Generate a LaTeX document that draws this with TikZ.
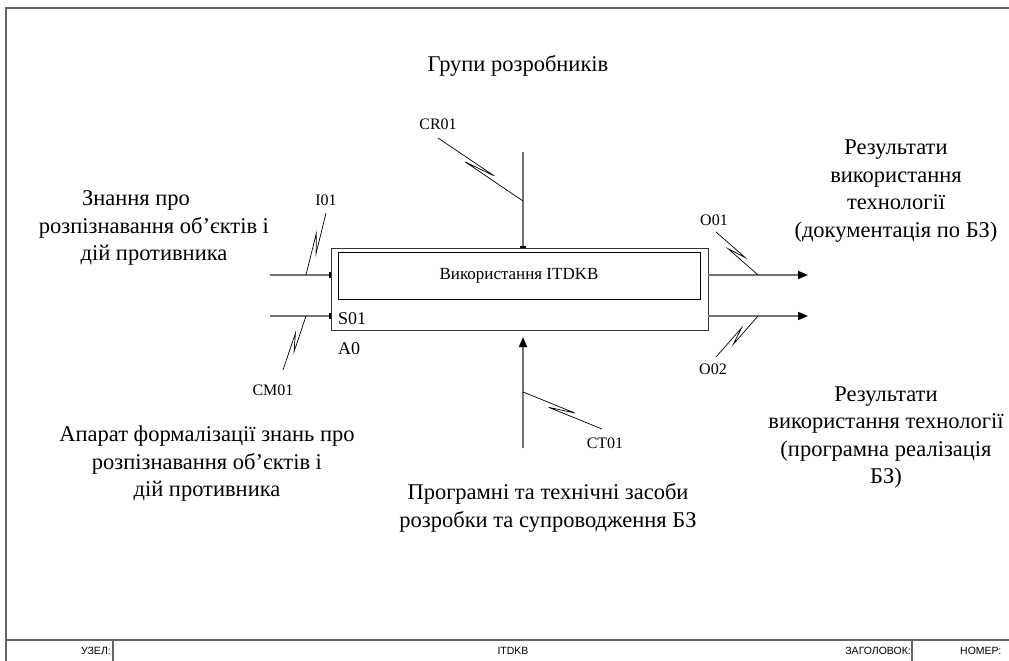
\documentclass[tikz,border=0pt]{standalone}
\usepackage{fontspec}
\setmainfont{Liberation Serif}
\newfontfamily\sansf{Liberation Sans}
\usetikzlibrary{arrows.meta,calc}
\tikzset{
  frameline/.style={draw=black!60, line width=1.6pt},
  flow/.style={draw=black!55, line width=1.6pt},
  leader/.style={draw=black, line width=0.7pt},
  bigtext/.style={font=\fontsize{22.5}{27.5}\selectfont, align=center, inner sep=0pt},
  lbl/.style={font=\fontsize{16}{18}\selectfont, inner sep=0pt},
  foot/.style={font=\sansf\fontsize{10.5}{12}\selectfont, inner sep=0pt},
  outtip/.style={-{Triangle[length=10pt,width=8pt,color=black,fill=black]}},
  bartip/.style={-{Rectangle[length=2pt,width=6pt,color=black,fill=black]}},
}
\newcommand{\squig}[2]{%
  \draw[leader] (#1) -- ($(#1)!0.64!(#2)!3pt!90:(#2)$) -- ($(#1)!0.34!(#2)!3pt!-90:(#2)$) -- (#2);}
\begin{document}
\begin{tikzpicture}[x=1pt,y=-1pt]
\useasboundingbox (0,0) rectangle (1009,661);
\begin{scope}
\clip (0,0) rectangle (1009,661);
% frame
\coordinate (ftl) at (6,8);
\coordinate (ftr) at (1012,8);
\coordinate (fbl) at (6,664);
\coordinate (fl) at (6,640);
\coordinate (fr) at (1012,640);
\coordinate (d1t) at (113,640);
\coordinate (d1b) at (113,664);
\coordinate (d2t) at (912,640);
\coordinate (d2b) at (912,664);
\draw[frameline] (ftr) -- (ftl) -- (fbl);
\draw[frameline, line width=1.2pt] (fl) -- (fr);
\draw[frameline, line width=1.2pt] (d1t) -- (d1b);
\draw[frameline, line width=1.2pt] (d2t) -- (d2b);
\node[foot, anchor=east] (uzel) at (111,651) {УЗЕЛ:};
\node[foot] (itdkbf) at (513,651) {ITDKB};
\node[foot, anchor=east] (zag) at (911,651) {ЗАГОЛОВОК:};
\node[foot, anchor=west] (nom) at (960,651) {НОМЕР:};
\end{scope}

% main box
\node[draw=black!80, line width=1.3pt, minimum width=377pt, minimum height=82pt, inner sep=0pt, anchor=north west] (box) at (331,248) {};
\node[draw=black, line width=0.9pt, minimum width=362pt, minimum height=47pt, inner sep=0pt, font=\fontsize{17}{19}\selectfont] (inner) at (519,275.5) {Використання ITDKB};
\node[font=\fontsize{18}{20}\selectfont, anchor=west, inner sep=0pt] (s01) at (338,319) {S01};
\node[font=\fontsize{18}{20}\selectfont, anchor=west, inner sep=0pt] (a0) at (338,349) {A0};

% inputs
\coordinate (in1s) at (270,275);
\coordinate (in1e) at (331,275);
\coordinate (in2s) at (270,316);
\coordinate (in2e) at (331,316);
\draw[flow, bartip] (in1s) -- (in1e);
\draw[flow, bartip] (in2s) -- (in2e);
% control
\coordinate (cts) at (523,152);
\coordinate (cte) at (523,248);
\draw[flow, bartip] (cts) -- (cte);
% mechanism
\coordinate (mcs) at (523,448);
\coordinate (mce) at (523,337);
\draw[flow, outtip] (mcs) -- (mce);
% outputs
\coordinate (o1s) at (708,275);
\coordinate (o1e) at (808,275);
\coordinate (o2s) at (708,316);
\coordinate (o2e) at (808,316);
\draw[flow, outtip] (o1s) -- (o1e);
\draw[flow, outtip] (o2s) -- (o2e);

% leaders
\coordinate (crA) at (438,138); \coordinate (crB) at (523,201);
\squig{crA}{crB}
\coordinate (iA) at (326,213); \coordinate (iB) at (306,275);
\squig{iA}{iB}
\coordinate (cmA) at (306,316); \coordinate (cmB) at (283,370);
\squig{cmA}{cmB}
\coordinate (oA) at (716,232); \coordinate (oB) at (758,275);
\squig{oA}{oB}
\coordinate (o2A) at (758,316); \coordinate (o2B) at (716,357);
\squig{o2A}{o2B}
\coordinate (ctA) at (523,392); \coordinate (ctB) at (602,429);
\squig{ctA}{ctB}

% leader labels
\node[lbl] (cr01) at (438,124) {CR01};
\node[lbl] (i01) at (326,200) {I01};
\node[lbl] (o01) at (714,220) {O01};
\node[lbl] (cm01) at (273,390) {CM01};
\node[lbl] (o02) at (713,369) {O02};
\node[lbl] (ct01) at (605,443) {CT01};

% big texts
\node[bigtext] (ctrl) at (518,66) {Групи розробників};
\node[bigtext] (inp) at (154,228) {Знання про\hspace*{36pt}\\розпізнавання об'єктів і\\дій противника};
\node[bigtext] (mech) at (207,464) {Апарат формалізації знань про\\розпізнавання об'єктів і\\дій противника};
\node[bigtext] (mech2) at (548,508) {Програмні та технічні засоби\\розробки та супроводження БЗ};
\node[bigtext] (out1) at (896,191) {Результати\\використання\\технології\\(документація по БЗ)};
\node[bigtext] (out2) at (886,437.5) {Результати\\використання технології\\(програмна реалізація\\БЗ)};
\end{tikzpicture}
\end{document}
